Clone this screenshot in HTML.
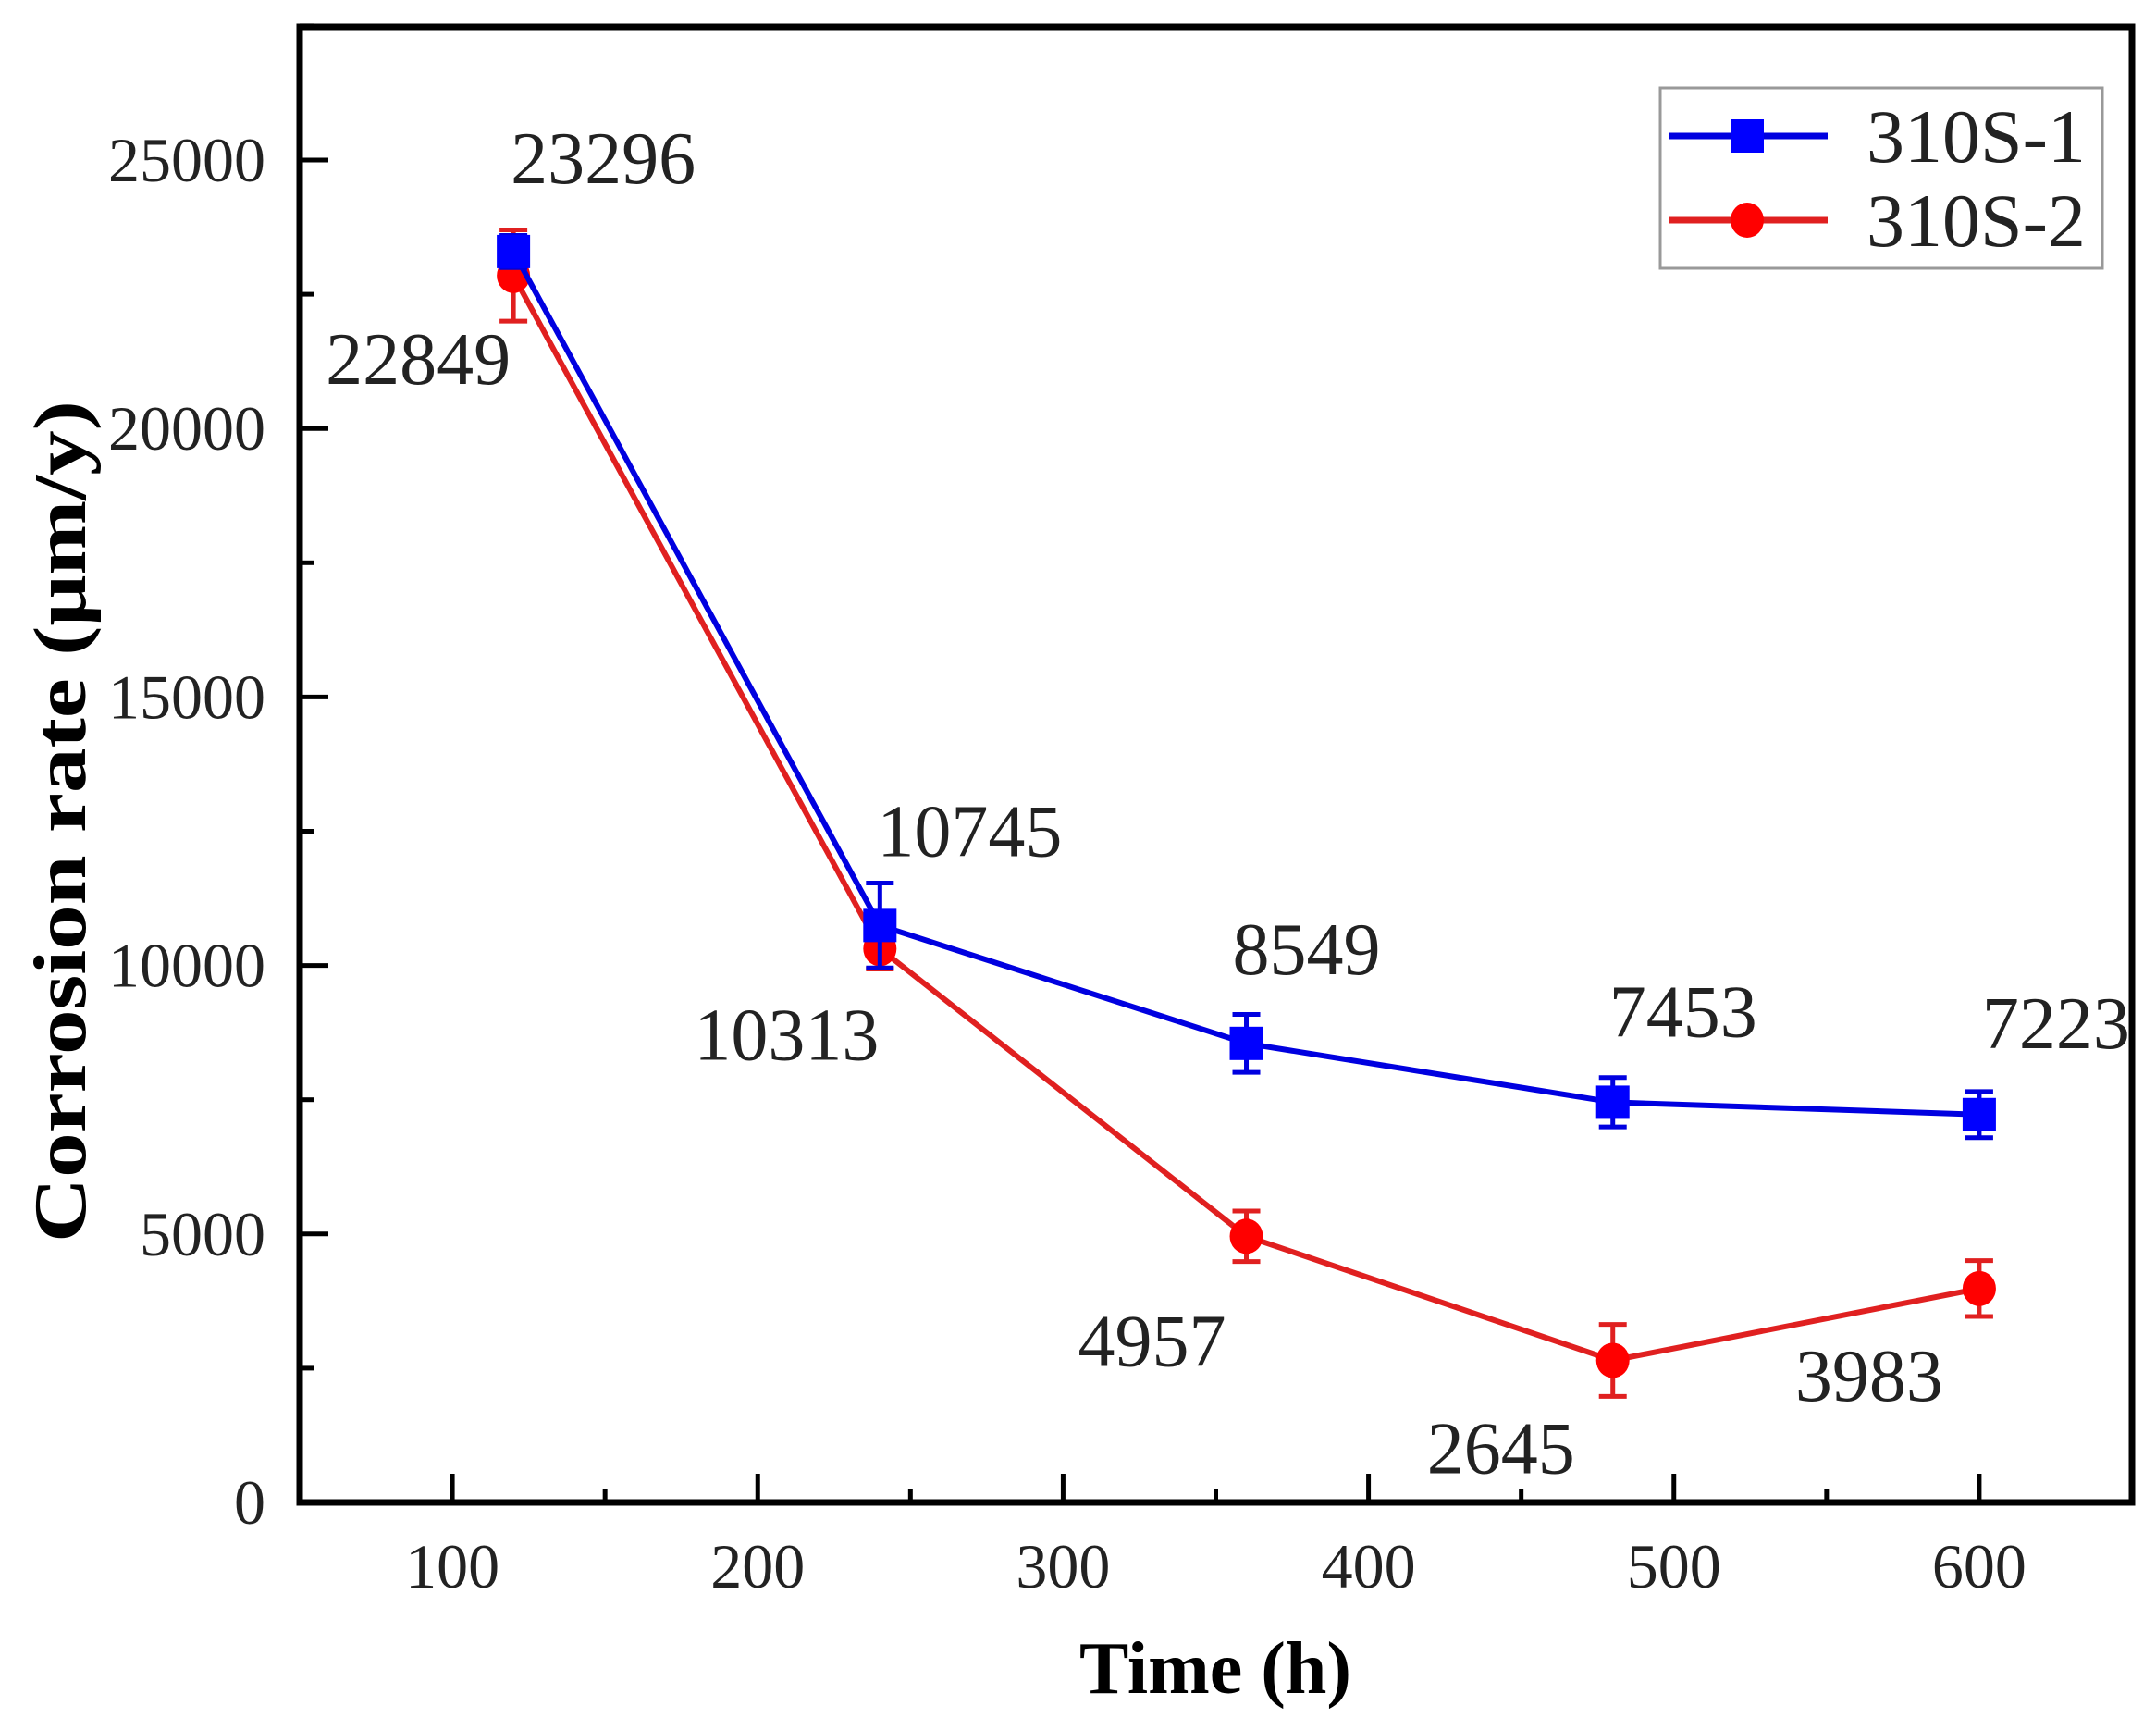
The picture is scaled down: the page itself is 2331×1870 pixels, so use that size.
<!DOCTYPE html>
<html><head><meta charset="utf-8"><style>
html,body{margin:0;padding:0;background:#fff;}
svg{display:block;}
text{font-family:"Liberation Serif",serif;fill:#222;}
</style></head><body>
<svg id="chart" width="2331" height="1870" viewBox="0 0 2331 1870" xmlns="http://www.w3.org/2000/svg">
<rect width="2331" height="1870" fill="#fff"/>
<g id="plot"></g>
<text x="1314" y="1830" text-anchor="middle" font-size="80" font-weight="bold" style="fill:#000">Time (h)</text>
<text x="0" y="0" transform="translate(92,888) rotate(-90)" text-anchor="middle" font-size="80" font-weight="bold" textLength="910" lengthAdjust="spacingAndGlyphs" style="fill:#000">Corrosion rate (μm/y)</text>
<g>
<rect x="1795" y="95" width="478" height="195" fill="#fff" stroke="#999" stroke-width="3"/>
<g>
<line x1="1805" y1="147" x2="1976" y2="147" stroke="#0000e0" stroke-width="7"/>
<rect x="1871" y="129" width="36" height="36" fill="#0000ff"/>
<text x="2018" y="175" font-size="82">310S-1</text>
</g>
<g>
<line x1="1805" y1="238" x2="1976" y2="238" stroke="#e02020" stroke-width="7"/>
<ellipse cx="1889" cy="238" rx="18" ry="19" fill="#ff0000"/>
<text x="2018" y="266" font-size="82">310S-2</text>
</g>
</g>
</svg>
<script>
const times = [120, 240, 360, 480, 600];
const series1 = [23296, 10745, 8549, 7453, 7223];
const series2 = [22849, 10313, 4957, 2645, 3983];
const err1 = [300, 790, 540, 460, 430];
const err2 = [850, 380, 470, 670, 520];
const xTicks = [100, 200, 300, 400, 500, 600];
const yTicks = [0, 5000, 10000, 15000, 20000, 25000];
const labels1 = ["23296", "10745", "8549", "7453", "7223"];
const labels2 = ["22849", "10313", "4957", "2645", "3983"];

const X0 = 324, X1 = 2305, Y0 = 1624, YT = 29;
const xMin = 50, xMax = 650;
const yPerUnit = (1624 - 173) / 25000;
function sx(v){ return X0 + (v - xMin) * (X1 - X0) / (xMax - xMin); }
function sy(v){ return Y0 - v * yPerUnit; }

const NS = "http://www.w3.org/2000/svg";
const plot = document.getElementById('plot');
function mk(tag, attrs, parent){
  const e = document.createElementNS(NS, tag);
  for (const k in attrs) e.setAttribute(k, attrs[k]);
  (parent || plot).appendChild(e);
  return e;
}

const frame = mk('rect', {x:X0, y:YT, width:X1-X0, height:Y0-YT, fill:'none', stroke:'#000', 'stroke-width':7});



xTicks.forEach((t, i) => {
  const x = sx(t);
  const tk = mk('line', {x1:x, y1:Y0, x2:x, y2:Y0-31, stroke:'#000', 'stroke-width':5});
  
  
  const lb = mk('text', {x:x, y:1716, 'text-anchor':'middle', 'font-size':68});
  lb.textContent = t;
  
  
  if (i < xTicks.length - 1) {
    const xm = sx(t + 50);
    const mt = mk('line', {x1:xm, y1:Y0, x2:xm, y2:Y0-15, stroke:'#000', 'stroke-width':5});
    
    
  }
});
yTicks.forEach((t, i) => {
  const y = sy(t);
  const tk = mk('line', {x1:X0, y1:y, x2:X0+31, y2:y, stroke:'#000', 'stroke-width':5});
  
  
  const lb = mk('text', {x:287, y:y+23, 'text-anchor':'end', 'font-size':68});
  lb.textContent = t;
  
  
  const ym = sy(t + 2500);
  const mt = mk('line', {x1:X0, y1:ym, x2:X0+15, y2:ym, stroke:'#000', 'stroke-width':5});
  
  
});

function drawSeries(vals, errs, color, lineColor, marker, name){
  const pts = times.map((t, i) => sx(t) + ',' + sy(vals[i])).join(' ');
  const pl = mk('polyline', {points:pts, fill:'none', stroke:lineColor, 'stroke-width':6});
  
  
  times.forEach((t, i) => {
    const x = sx(t), y = sy(vals[i]);
    const yt = sy(vals[i] + errs[i]), yb = sy(vals[i] - errs[i]);
    const eb = mk('path', {d:`M${x},${yt}V${yb}M${x-15},${yt}H${x+15}M${x-15},${yb}H${x+15}`, stroke:lineColor, 'stroke-width':5, fill:'none'});
    
    
    let m;
    if (marker === 'square') m = mk('rect', {x:x-18, y:y-18, width:36, height:36, fill:color});
    else m = mk('ellipse', {cx:x, cy:y, rx:18, ry:19, fill:color});
    
    
  });
}
drawSeries(series2, err2, '#ff0000', '#e02020', 'circle', 'series-310s-2');
drawSeries(series1, err1, '#0000ff', '#0000e0', 'square', 'series-310s-1');

const off1 = [[-3, -101], [-3, -102], [-15, -102], [-4, -98], [3, -99]];
const off2 = [[-203, 90], [-201, 93], [-182, 113], [-201, 95], [-199, 94]];
function drawLabels(vals, labels, offs, name){
  vals.forEach((v, i) => {
    const t = mk('text', {x:sx(times[i]) + offs[i][0], y:sy(v) + offs[i][1] + 27, 'font-size':80});
    t.textContent = labels[i];
    
    
  });
}
drawLabels(series1, labels1, off1, 'series-310s-1');
drawLabels(series2, labels2, off2, 'series-310s-2');
</script>
</body></html>
